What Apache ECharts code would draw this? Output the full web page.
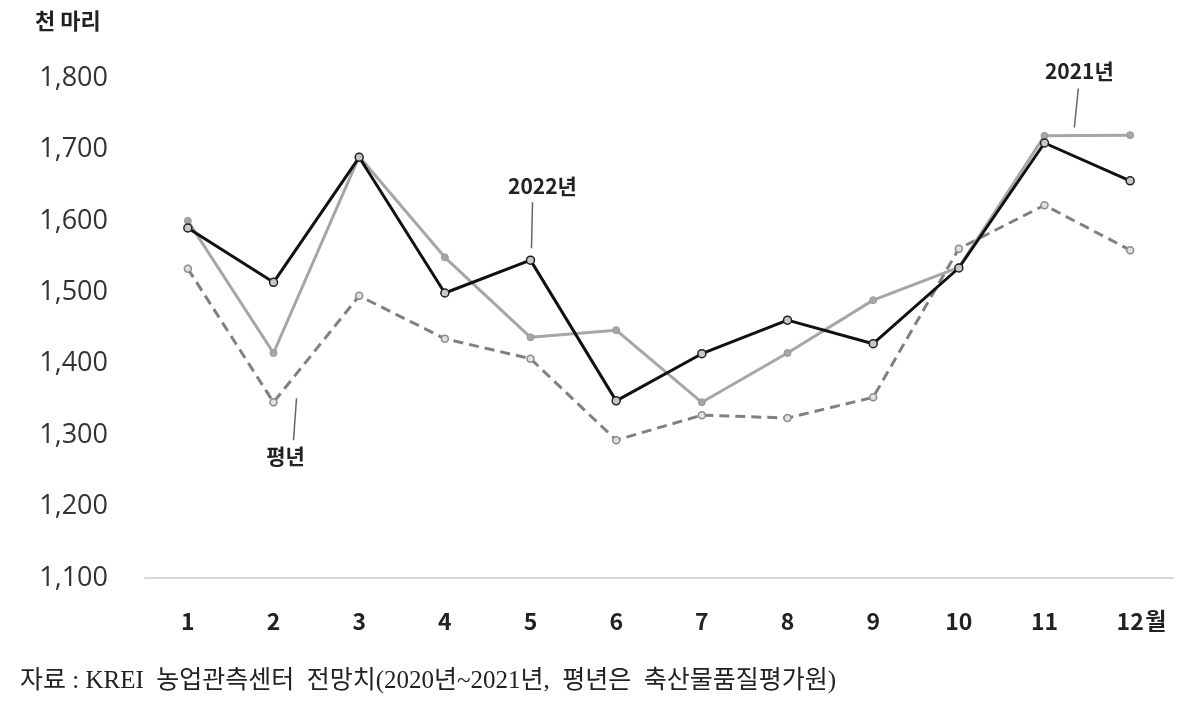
<!DOCTYPE html>
<html lang="ko">
<head>
    <meta charset="UTF-8">
    <title>천 마리</title>
    <script src="https://cdn.jsdelivr.net/npm/echarts@6/dist/echarts.min.js"></script>
</head>
<style>
    body { margin:0; padding:0; background:#fff; }
    #main { width:1200px; height:704px; }
</style>
<body>
<div id="main"></div>
<script>
    // 월
    var months = ['1','2','3','4','5','6','7','8','9','10','11','12'];
    // 2022년 (검정 실선)
    var y2022 = [1590, 1514, 1689, 1499, 1545, 1348, 1414, 1461, 1428, 1534, 1709, 1656];
    // 2021년 (회색 실선)
    var y2021 = [1600, 1415, 1690, 1549, 1437, 1447, 1346, 1415, 1489, 1535, 1719, 1720];
    // 평년 (점선)
    var yAvg = [1533, 1346, 1495, 1435, 1407, 1293, 1328, 1324, 1353, 1561, 1622, 1559];

    var yMin = 1100, yMax = 1800, yStep = 100;

    var boldFont = '"Noto Sans CJK KR", "Open Sans", sans-serif';

    var myChart = echarts.init(document.getElementById('main'));

    var option = {
        animation: false,
        grid: { left: 145, right: 27, top: 78, bottom: 126 },
        xAxis: {
            type: 'category',
            data: months,
            boundaryGap: true,
            axisLine: { lineStyle: { color: '#d9d9d9', width: 2 } },
            axisTick: { show: false },
            axisLabel: {
                margin: 32,
                fontSize: 23,
                fontWeight: 'bold',
                color: '#222',
                fontFamily: boldFont
            }
        },
        yAxis: {
            type: 'value',
            min: yMin,
            max: yMax,
            interval: yStep,
            axisLine: { show: false },
            axisTick: { show: false },
            splitLine: { show: false },
            axisLabel: {
                margin: 37,
                fontSize: 27,
                color: '#333',
                fontFamily: '"Open Sans", sans-serif',
                formatter: function (v) { return v.toLocaleString('en-US'); }
            }
        },
        series: [
            {
                name: '평년',
                type: 'line',
                data: yAvg,
                symbol: 'circle',
                symbolSize: 7,
                lineStyle: { color: '#808080', width: 3, type: [10, 6] },
                itemStyle: { color: '#e0e0e0', borderColor: '#8c8c8c', borderWidth: 1.5 },
                z: 2
            },
            {
                name: '2021년',
                type: 'line',
                data: y2021,
                symbol: 'circle',
                symbolSize: 7,
                lineStyle: { color: '#a6a6a6', width: 3 },
                itemStyle: { color: '#a6a6a6', borderColor: '#999', borderWidth: 1 },
                z: 3
            },
            {
                name: '2022년',
                type: 'line',
                data: y2022,
                symbol: 'circle',
                symbolSize: 8,
                lineStyle: { color: '#111', width: 3 },
                itemStyle: { color: '#c8c8c8', borderColor: '#222', borderWidth: 1.5 },
                z: 4
            }
        ]
    };
    myChart.setOption(option);

    // 주석: 데이터 점 위치를 기준으로 배치
    function px(i, v) { return myChart.convertToPixel({ gridIndex: 0 }, [i, v]); }
    var p22 = px(4, y2022[4]);
    var p11 = px(10, y2021[10]);
    var p12 = px(11, y2021[11]);
    var p21 = [(p11[0] + p12[0]) / 2, (p11[1] + p12[1]) / 2];
    var pAvg = px(1, yAvg[1]);
    var pLast = px(11, yMin);

    var lineStyle = { stroke: '#666', lineWidth: 1.5 };

    myChart.setOption({
        graphic: [
            { type: 'text', left: 35, top: 10,
              style: { text: '천 마리', font: 'bold 22px ' + boldFont, fill: '#222' } },
            { type: 'text', x: pLast[0] + 15, y: pLast[1] + 31,
              style: { text: '월', font: 'bold 23px ' + boldFont, fill: '#222', textVerticalAlign: 'top' } },

            { type: 'line', shape: { x1: p22[0] + 1, y1: p22[1] - 12, x2: p22[0] + 2, y2: p22[1] - 58 }, style: lineStyle },
            { type: 'text', x: p22[0] + 12, y: p22[1] - 74,
              style: { text: '2022년', font: 'bold 21px ' + boldFont, fill: '#222', textAlign: 'center', textVerticalAlign: 'middle' } },

            { type: 'line', shape: { x1: p21[0] - 13, y1: p21[1] - 8, x2: p21[0] - 9, y2: p21[1] - 47 }, style: lineStyle },
            { type: 'text', x: p21[0] - 8, y: p21[1] - 64,
              style: { text: '2021년', font: 'bold 21px ' + boldFont, fill: '#222', textAlign: 'center', textVerticalAlign: 'middle' } },

            { type: 'line', shape: { x1: pAvg[0] + 23, y1: pAvg[1] - 4, x2: pAvg[0] + 20, y2: pAvg[1] + 38 }, style: lineStyle },
            { type: 'text', x: pAvg[0] + 12, y: pAvg[1] + 54,
              style: { text: '평년', font: 'bold 21px ' + boldFont, fill: '#222', textAlign: 'center', textVerticalAlign: 'middle' } },

            { type: 'text', left: 20, top: 669,
              style: { text: '자료 : KREI  농업관측센터  전망치(2020년~2021년,  평년은  축산물품질평가원)',
                       font: '25px "Liberation Serif", "Noto Sans CJK KR", serif', fill: '#222' } }
        ]
    });
</script>
</body>
</html>
